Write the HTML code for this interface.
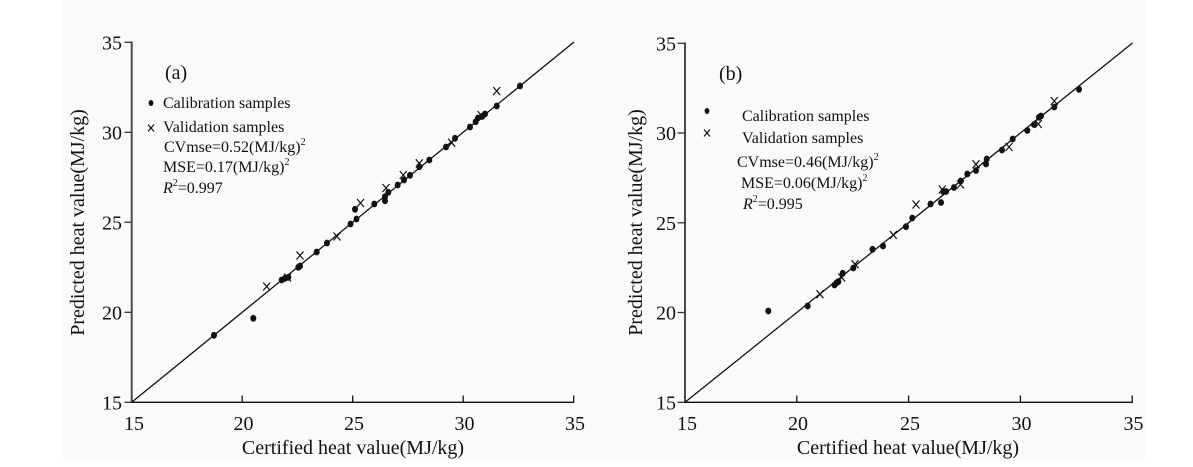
<!DOCTYPE html>
<html>
<head>
<meta charset="utf-8">
<style>
html,body{margin:0;padding:0;background:#fff;}
svg{display:block;}
svg text{font-family:"Liberation Serif","Times New Roman",serif;fill:#111;}
</style>
</head>
<body>
<svg width="1193" height="467" viewBox="0 0 1193 467" xmlns="http://www.w3.org/2000/svg" font-family="Liberation Serif, Times New Roman, serif">
<rect x="0" y="0" width="1193" height="467" fill="#fff"/>
<rect x="63" y="0" width="1082" height="460" fill="#fafafa"/>

<!-- ================= LEFT PANEL (a) ================= -->
<g>
  <line x1="131.7" y1="41.5" x2="131.7" y2="403" stroke="#4a4a4a" stroke-width="2"/>
  <line x1="131" y1="402.3" x2="574" y2="402.3" stroke="#111" stroke-width="1.4"/>
  <g stroke="#333" stroke-width="1.3">
    <line x1="124.5" y1="42.3" x2="131.7" y2="42.3"/>
    <line x1="124.5" y1="132.3" x2="131.7" y2="132.3"/>
    <line x1="124.5" y1="222.3" x2="131.7" y2="222.3"/>
    <line x1="124.5" y1="312.3" x2="131.7" y2="312.3"/>
    <line x1="124.5" y1="402.3" x2="131.7" y2="402.3"/>
  </g>
  <g stroke="#111" stroke-width="1.3">
    <line x1="242.2" y1="395.5" x2="242.2" y2="402.3"/>
    <line x1="352.7" y1="395.5" x2="352.7" y2="402.3"/>
    <line x1="463.2" y1="395.5" x2="463.2" y2="402.3"/>
    <line x1="573.7" y1="395.5" x2="573.7" y2="402.3"/>
  </g>
  <g font-size="20" text-anchor="end" font-family="Liberation Serif, serif">
    <text x="122" y="49.3">35</text>
    <text x="122" y="139.3">30</text>
    <text x="122" y="229.3">25</text>
    <text x="122" y="319.3">20</text>
    <text x="122" y="409.3">15</text>
  </g>
  <g font-size="20" text-anchor="middle" font-family="Liberation Serif, serif">
    <text x="134" y="430">15</text>
    <text x="243.5" y="430">20</text>
    <text x="354" y="430">25</text>
    <text x="464.5" y="430">30</text>
    <text x="575" y="430">35</text>
  </g>
  <text x="353" y="454" font-size="20" text-anchor="middle" font-family="Liberation Serif, serif">Certified heat value(MJ/kg)</text>
  <text transform="translate(84,222.5) rotate(-90)" font-size="20" text-anchor="middle" font-family="Liberation Serif, serif">Predicted heat value(MJ/kg)</text>

  <line x1="131.7" y1="402.3" x2="574" y2="42" stroke="#111" stroke-width="1.3"/>

  <text x="165" y="79" font-size="20" font-family="Liberation Serif, serif">(a)</text>
  <ellipse cx="151" cy="103" rx="2.4" ry="3" fill="#111"/>
  <g stroke="#111" stroke-width="1.2"><line x1="148" y1="124.5" x2="154" y2="131.5"/><line x1="154" y1="124.5" x2="148" y2="131.5"/></g>
  <g font-size="16" font-family="Liberation Serif, serif">
    <text x="163" y="108">Calibration samples</text>
    <text x="163" y="132">Validation samples</text>
    <text x="164" y="152">CVmse=0.52(MJ/kg)<tspan font-size="10" dy="-7">2</tspan></text>
    <text x="163" y="172">MSE=0.17(MJ/kg)<tspan font-size="10" dy="-7">2</tspan></text>
    <text x="163" y="193"><tspan font-style="italic">R</tspan><tspan font-size="10" dy="-7">2</tspan><tspan dy="7">=0.997</tspan></text>
  </g>

  <g fill="#111">
    <ellipse cx="520" cy="86" rx="3" ry="3.4"/>
    <ellipse cx="496.7" cy="106" rx="3" ry="3.4"/>
    <ellipse cx="478" cy="118" rx="3" ry="3.4"/>
    <ellipse cx="482" cy="116.5" rx="3" ry="3.4"/>
    <ellipse cx="485" cy="114" rx="3" ry="3.4"/>
    <ellipse cx="470" cy="127" rx="3" ry="3.4"/>
    <ellipse cx="475.7" cy="121.7" rx="3" ry="3.4"/>
    <ellipse cx="455" cy="138.3" rx="3" ry="3.4"/>
    <ellipse cx="446" cy="147" rx="3" ry="3.4"/>
    <ellipse cx="429.3" cy="160" rx="3" ry="3.4"/>
    <ellipse cx="419.3" cy="166.7" rx="3" ry="3.4"/>
    <ellipse cx="410" cy="175.3" rx="3" ry="3.4"/>
    <ellipse cx="404" cy="180" rx="3" ry="3.4"/>
    <ellipse cx="397.7" cy="185" rx="3" ry="3.4"/>
    <ellipse cx="388.3" cy="192.3" rx="3" ry="3.4"/>
    <ellipse cx="385" cy="196.7" rx="3" ry="3.4"/>
    <ellipse cx="385" cy="200.7" rx="3" ry="3.4"/>
    <ellipse cx="374.3" cy="204" rx="3" ry="3.4"/>
    <ellipse cx="355" cy="209.3" rx="3" ry="3.4"/>
    <ellipse cx="356.5" cy="219" rx="3" ry="3.4"/>
    <ellipse cx="350.5" cy="224" rx="3" ry="3.4"/>
    <ellipse cx="327" cy="243" rx="3" ry="3.4"/>
    <ellipse cx="316.7" cy="252" rx="3" ry="3.4"/>
    <ellipse cx="300" cy="266" rx="3" ry="3.4"/>
    <ellipse cx="298.3" cy="267.3" rx="3" ry="3.4"/>
    <ellipse cx="281.7" cy="280" rx="3" ry="3.4"/>
    <ellipse cx="285" cy="278.3" rx="3" ry="3.4"/>
    <ellipse cx="288.3" cy="277.3" rx="3" ry="3.4"/>
    <ellipse cx="214" cy="335.3" rx="3" ry="3.4"/>
    <ellipse cx="253.3" cy="318.3" rx="3" ry="3.4"/>
  </g>
  <g stroke="#111" stroke-width="1.2" fill="none">
    <path d="M493.2,87 l7,8 M500.2,87 l-7,8"/>
    <path d="M477.5,111 l7,8 M484.5,111 l-7,8"/>
    <path d="M448.2,138.7 l7,8 M455.2,138.7 l-7,8"/>
    <path d="M415.8,159.3 l7,8 M422.8,159.3 l-7,8"/>
    <path d="M399.8,171 l7,8 M406.8,171 l-7,8"/>
    <path d="M382.5,184 l7,8 M389.5,184 l-7,8"/>
    <path d="M357,199 l7,8 M364,199 l-7,8"/>
    <path d="M333.5,232.5 l7,8 M340.5,232.5 l-7,8"/>
    <path d="M296.5,251.5 l7,8 M303.5,251.5 l-7,8"/>
    <path d="M284,273.5 l7,8 M291,273.5 l-7,8"/>
    <path d="M263.2,282.5 l7,8 M270.2,282.5 l-7,8"/>
  </g>
</g>

<!-- ================= RIGHT PANEL (b) ================= -->
<g>
  <line x1="685" y1="42.5" x2="685" y2="403" stroke="#4a4a4a" stroke-width="2"/>
  <line x1="684" y1="402.3" x2="1133" y2="402.3" stroke="#111" stroke-width="1.4"/>
  <g stroke="#333" stroke-width="1.3">
    <line x1="677.5" y1="43.3" x2="685" y2="43.3"/>
    <line x1="677.5" y1="133" x2="685" y2="133"/>
    <line x1="677.5" y1="222.8" x2="685" y2="222.8"/>
    <line x1="677.5" y1="312.5" x2="685" y2="312.5"/>
    <line x1="677.5" y1="402.3" x2="685" y2="402.3"/>
  </g>
  <g stroke="#111" stroke-width="1.3">
    <line x1="796.8" y1="395.5" x2="796.8" y2="402.3"/>
    <line x1="908.6" y1="395.5" x2="908.6" y2="402.3"/>
    <line x1="1020.4" y1="395.5" x2="1020.4" y2="402.3"/>
    <line x1="1132.2" y1="395.5" x2="1132.2" y2="402.3"/>
  </g>
  <g font-size="20" text-anchor="end" font-family="Liberation Serif, serif">
    <text x="676" y="50.3">35</text>
    <text x="676" y="140">30</text>
    <text x="676" y="229.8">25</text>
    <text x="676" y="319.5">20</text>
    <text x="676" y="409.3">15</text>
  </g>
  <g font-size="20" text-anchor="middle" font-family="Liberation Serif, serif">
    <text x="687" y="430">15</text>
    <text x="798" y="430">20</text>
    <text x="910" y="430">25</text>
    <text x="1021.5" y="430">30</text>
    <text x="1133.5" y="430">35</text>
  </g>
  <text x="908" y="454" font-size="20" text-anchor="middle" font-family="Liberation Serif, serif">Certified heat value(MJ/kg)</text>
  <text transform="translate(642,222.5) rotate(-90)" font-size="20" text-anchor="middle" font-family="Liberation Serif, serif">Predicted heat value(MJ/kg)</text>

  <line x1="685" y1="402.3" x2="1132.5" y2="43" stroke="#111" stroke-width="1.3"/>

  <text x="719" y="80" font-size="20" font-family="Liberation Serif, serif">(b)</text>
  <ellipse cx="707" cy="111" rx="2.4" ry="3" fill="#111"/>
  <g stroke="#111" stroke-width="1.2"><line x1="704" y1="129.5" x2="710" y2="136.5"/><line x1="710" y1="129.5" x2="704" y2="136.5"/></g>
  <g font-size="16" font-family="Liberation Serif, serif">
    <text x="742" y="121">Calibration samples</text>
    <text x="742" y="143">Validation samples</text>
    <text x="737" y="167">CVmse=0.46(MJ/kg)<tspan font-size="10" dy="-7">2</tspan></text>
    <text x="741" y="188">MSE=0.06(MJ/kg)<tspan font-size="10" dy="-7">2</tspan></text>
    <text x="743" y="209"><tspan font-style="italic">R</tspan><tspan font-size="10" dy="-7">2</tspan><tspan dy="7">=0.995</tspan></text>
  </g>

  <g fill="#111">
    <ellipse cx="1079" cy="89.3" rx="3" ry="3.4"/>
    <ellipse cx="1054.3" cy="107" rx="3" ry="3.4"/>
    <ellipse cx="1039" cy="117.3" rx="3" ry="3.4"/>
    <ellipse cx="1041" cy="116" rx="3" ry="3.4"/>
    <ellipse cx="1034" cy="124.5" rx="3" ry="3.4"/>
    <ellipse cx="1027.3" cy="130.5" rx="3" ry="3.4"/>
    <ellipse cx="1012.7" cy="139" rx="3" ry="3.4"/>
    <ellipse cx="1002" cy="150" rx="3" ry="3.4"/>
    <ellipse cx="986.7" cy="159" rx="3" ry="3.4"/>
    <ellipse cx="986" cy="164" rx="3" ry="3.4"/>
    <ellipse cx="976" cy="170.5" rx="3" ry="3.4"/>
    <ellipse cx="967.3" cy="174" rx="3" ry="3.4"/>
    <ellipse cx="960.7" cy="181" rx="3" ry="3.4"/>
    <ellipse cx="954" cy="187.5" rx="3" ry="3.4"/>
    <ellipse cx="943.3" cy="191.7" rx="3" ry="3.4"/>
    <ellipse cx="946" cy="191.5" rx="3" ry="3.4"/>
    <ellipse cx="941" cy="202.5" rx="3" ry="3.4"/>
    <ellipse cx="930.5" cy="204" rx="3" ry="3.4"/>
    <ellipse cx="912.3" cy="218" rx="3" ry="3.4"/>
    <ellipse cx="906" cy="226.7" rx="3" ry="3.4"/>
    <ellipse cx="883" cy="246" rx="3" ry="3.4"/>
    <ellipse cx="872.5" cy="249.3" rx="3" ry="3.4"/>
    <ellipse cx="853.3" cy="268" rx="3" ry="3.4"/>
    <ellipse cx="842.7" cy="273.3" rx="3" ry="3.4"/>
    <ellipse cx="838.3" cy="281.7" rx="3" ry="3.4"/>
    <ellipse cx="836.7" cy="282.7" rx="3" ry="3.4"/>
    <ellipse cx="834.5" cy="285" rx="3" ry="3.4"/>
    <ellipse cx="807.7" cy="306" rx="3" ry="3.4"/>
    <ellipse cx="768.3" cy="311" rx="3" ry="3.4"/>
  </g>
  <g stroke="#111" stroke-width="1.2" fill="none">
    <path d="M1050.8,97 l7,8 M1057.8,97 l-7,8"/>
    <path d="M1034.8,120 l7,8 M1041.8,120 l-7,8"/>
    <path d="M1005.5,143 l7,8 M1012.5,143 l-7,8"/>
    <path d="M972.5,160.3 l7,8 M979.5,160.3 l-7,8"/>
    <path d="M957,180.5 l7,8 M964,180.5 l-7,8"/>
    <path d="M938.8,185.5 l7,8 M945.8,185.5 l-7,8"/>
    <path d="M912.5,200.5 l7,8 M919.5,200.5 l-7,8"/>
    <path d="M889.8,231 l7,8 M896.8,231 l-7,8"/>
    <path d="M851.5,260.2 l7,8 M858.5,260.2 l-7,8"/>
    <path d="M838.2,273.5 l7,8 M845.2,273.5 l-7,8"/>
    <path d="M816.5,290.2 l7,8 M823.5,290.2 l-7,8"/>
  </g>
</g>
</svg>
</body>
</html>
